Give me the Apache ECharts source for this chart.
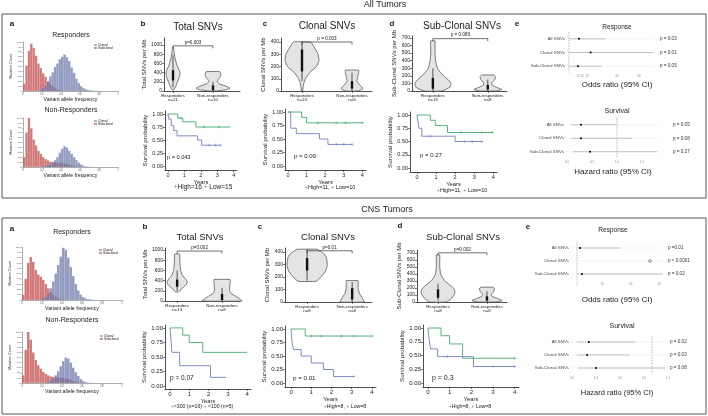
<!DOCTYPE html>
<html><head><meta charset="utf-8">
<script src="https://cdn.jsdelivr.net/npm/echarts@6/dist/echarts.min.js"></script>
<style>html,body{margin:0;padding:0;background:#fff}#main{width:708px;height:416px}</style>
</head><body><div id="main"></div>
<script>
// ================= DATA =================
const HIST_BIN = 0.025; // bin width of the VAF histograms
// All tumors – Responders
const histTopRespSubclonal = [150,520,820,965,880,720,560,470,360,290,200,140,95,50,25,12,5];
const histTopRespClonal    = [0,0,0,0,0,0,10,30,60,110,190,300,380,490,560,650,700,745,690,610,480,370,250,160,100,60,35,20,12,8,5,3];
// All tumors – Non-Responders
const histTopNonRespSubclonal = [200,700,1000,790,560,440,330,270,200,160,135,110,100,95,90,88,80,70,60,45,30,20,10,5];
const histTopNonRespClonal    = [0,0,0,0,0,0,0,0,10,20,40,60,90,140,200,290,370,425,395,330,270,200,140,90,50,25,12,6,3];
// CNS tumors – Responders
const histBotRespSubclonal = [100,400,700,810,720,570,480,440,380,300,220,150,100,60,30,15,5];
const histBotRespClonal    = [0,0,0,0,0,0,0,10,30,60,120,220,350,500,660,820,985,950,800,620,450,300,180,100,55,30,15,8,4];
// CNS tumors – Non-Responders
const histBotNonRespSubclonal = [150,650,1000,850,600,450,350,280,220,180,150,130,120,115,110,105,100,90,80,60,40,25,12,5];
const histBotNonRespClonal    = [0,0,0,0,0,0,0,0,0,10,25,50,90,150,230,330,430,500,480,400,300,210,140,80,40,20,8,3];

// Violin density profiles: [value, relative density]; box: [whiskerLow, q1, q3, whiskerHigh]
const violinCategoriesTopB = ['Responders\nn=21','Non-responders\nn=10'];
const violinCategoriesTopC = ['Responders\nn=13','Non-responders\nn=8'];
const violinCategoriesTopD = ['Responders\nn=13','Non-responders\nn=8'];
const violinCategoriesBotB = ['Responders\nn=13','Non-responders\nn=8'];
const violinCategoriesBotC = ['Responders\nn=8','Non-responders\nn=8'];
const violinCategoriesBotD = ['Responders\nn=8','Non-responders\nn=8'];

const vTopB_R  = [[20,0.1],[100,0.4],[200,0.65],[300,0.9],[380,1.0],[450,0.9],[550,0.6],[650,0.4],[750,0.25],[850,0.15],[950,0.06]];
const vTopB_NR = [[0,0.2],[30,0.8],[60,1.0],[100,0.8],[150,0.4],[200,0.25],[250,0.3],[320,0.45],[380,0.45],[420,0.4]];
const vTopC_R  = [[0,0.04],[50,0.08],[100,0.2],[150,0.45],[200,0.85],[250,1.0],[300,0.95],[350,0.75],[400,0.5]];
const vTopC_NR = [[0,0.6],[20,1.0],[50,0.7],[80,0.45],[110,0.5],[150,0.6],[170,0.6]];
const vTopD_R  = [[0,0.5],[50,0.95],[100,1.0],[150,0.85],[200,0.6],[250,0.4],[300,0.25],[400,0.15],[500,0.12],[600,0.12],[660,0.12]];
const vTopD_NR = [[0,0.5],[20,1.0],[50,0.6],[80,0.3],[110,0.3],[150,0.5],[190,0.55],[210,0.45]];
const vBotB_R  = [[180,0.2],[230,0.4],[280,0.7],[330,0.95],[380,1.0],[430,0.85],[500,0.55],[600,0.35],[700,0.3],[800,0.27],[920,0.25]];
const vBotB_NR = [[0,1.0],[50,0.85],[100,0.65],[150,0.45],[200,0.38],[260,0.38],[340,0.4],[420,0.4]];
const vBotC_R  = [[165,0.45],[200,0.7],[240,0.9],[280,1.0],[320,1.0],[360,0.95],[390,0.8],[410,0.6],[420,0.5]];
const vBotC_NR = [[0,1.0],[30,0.85],[70,0.6],[110,0.5],[150,0.5],[170,0.5]];
const vBotD_R  = [[0,0.5],[40,0.75],[100,0.95],[150,1.0],[200,0.9],[250,0.65],[300,0.4],[350,0.25],[400,0.15],[500,0.1],[600,0.1],[670,0.1]];
const vBotD_NR = [[0,0.6],[20,1.0],[50,0.7],[80,0.35],[110,0.3],[150,0.45],[190,0.5],[210,0.4]];

const boxTopB = [[80,230,450,780],[0,20,120,200]];
const boxTopC = [[80,160,340,400],[0,20,80,150]];
const boxTopD = [[0,30,170,300],[0,20,80,150]];
const boxBotB = [[200,280,420,600],[0,20,140,260]];
const boxBotC = [[170,250,350,420],[0,20,110,160]];
const boxBotD = [[20,60,180,260],[0,20,80,150]];

const pTopB = 'p=0.003', pTopC = 'p = 0.003', pTopD = 'p = 0.089';
const pBotB = 'p=0.002', pBotC = 'p=0.01', pBotD = 'p=0.002';

// Kaplan–Meier curves: times, survival, censor times
const kmTopB_hiT = [0,0.6,0.9,1.7,3.8],           kmTopB_hiS = [1,0.92,0.85,0.75,0.75], kmTopB_hiC = [0.8,2.2,3.1];
const kmTopB_loT = [0,0.05,0.2,0.35,0.55,1.8,2.05,3.2], kmTopB_loS = [1,0.9,0.78,0.68,0.58,0.5,0.4,0.4], kmTopB_loC = [2.5,2.9,3.2];
const kmTopC_hiT = [0,0.73,1.0,4.0],              kmTopC_hiS = [1,0.9,0.8,0.8], kmTopC_hiC = [1.6,2.6,3.1,4.0];
const kmTopC_loT = [0,0.15,0.45,1.7,2.15,3.45],   kmTopC_loS = [1,0.7,0.6,0.5,0.4,0.4], kmTopC_loC = [2.6,3.0,3.45];
const kmTopD_hiT = [0,0.7,0.96,1.6,4.0],          kmTopD_hiS = [1,0.9,0.8,0.67,0.67], kmTopD_hiC = [2.3,3.4,3.95];
const kmTopD_loT = [0,0.1,0.25,2.0,3.4],          kmTopD_loS = [1,0.75,0.6,0.5,0.5], kmTopD_loC = [0.7,2.5,2.9,3.4];
const kmBotB_hiT = [0,0.66,1.0,1.7,4.0],          kmBotB_hiS = [1,0.875,0.75,0.58,0.58], kmBotB_hiC = [];
const kmBotB_loT = [0,0.05,0.1,0.5,2.1,2.9],      kmBotB_loS = [1,0.8,0.58,0.35,0.15,0.15], kmBotB_loC = [];
const kmBotC_hiT = [0,0.7,4.0],                   kmBotC_hiS = [1,0.87,0.87], kmBotC_hiC = [1.0,1.5,2.5,3.1,4.0];
const kmBotC_loT = [0,0.05,0.12,0.5,1.0,1.6,2.1,3.1], kmBotC_loS = [1,0.75,0.62,0.5,0.37,0.25,0.12,0.12], kmBotC_loC = [3.1];
const kmBotD_hiT = [0,0.6,1.0,1.6,4.0],           kmBotD_hiS = [1,0.86,0.71,0.45,0.45], kmBotD_hiC = [4.0];
const kmBotD_loT = [0,0.05,0.12,0.45,2.1,4.0],    kmBotD_loS = [1,0.8,0.62,0.48,0.3,0.3], kmBotD_loC = [0.9,3.0,4.0];

const kmPTopB = 'p = 0.043', kmPTopC = 'p = 0.09', kmPTopD = 'p = 0.27';
const kmPBotB = 'p = 0.07',  kmPBotC = 'p = 0.01', kmPBotD = 'p = 0.3';
const kmLegTopB = ['High=16','Low=15'], kmLegTopC = ['High=11,','Low=10'], kmLegTopD = ['High=11,','Low=10'];
const kmLegBotB = ['>300 (n=16)','<100 (n=5)'], kmLegBotC = ['High=8,','Low=8'], kmLegBotD = ['High=8,','Low=8'];

// Forest plots
const forestRows = ['All SNVs','Clonal SNVs','Sub-Clonal SNVs'];
const frTopEst = [12.6,26,11.5],  frTopLo = [1,1,1],  frTopHi = [43,98,39];
const frTopP = ['p = 0.03','p = 0.01','p = 0.05'];
const fsTopEst = [0.28,0.28,0.46], fsTopLo = [0.08,0.08,0.12], fsTopHi = [1.0,1.3,1.8];
const fsTopP = ['p = 0.05','p = 0.08','p = 0.27'];
const frBotEst = [2.06,26.8,2.77], frBotLo = [1,null,1], frBotHi = [16.2,null,31.4];
const frBotP = ['p =0.01','p < 0.0001','p = 0.02'];
const fsBotEst = [0.21,0.19,0.3], fsBotLo = [0.06,0.06,0.075], fsBotHi = [0.79,0.72,1.16];
const fsBotP = ['p = 0.02','p = 0.03','p = 0.08'];

// ================= BUILD =================
const FONT = '"Liberation Sans", Arial, Helvetica, sans-serif';
const GREEN = '#45ab70', BLUE = '#7480bd';
const RED_F = 'rgba(196,82,82,0.78)', BLUE_F = 'rgba(98,112,165,0.7)';
const grids = [], xAxes = [], yAxes = [], series = [], graphics = [];

function axLine(c){ return {show:true, onZero:false, lineStyle:{color:c||'#222', width:0.8}}; }
function valAxis(gi, min, max, ticks, o) {
  o = o || {};
  return {
    type:'value', gridIndex:gi, min:min, max:max,
    axisLine: o.noLine ? {show:false, onZero:false} : axLine(o.lineColor),
    axisTick: o.noTick ? {show:false} : {show:true, length:o.tickLen||2, customValues:ticks, lineStyle:{color:o.lineColor||'#222', width:0.6}},
    axisLabel:{show:true, customValues:ticks, fontSize:o.fs||5, color:o.lc||'#222', margin:o.margin||2, fontFamily:FONT,
      lineHeight:o.lh||undefined, formatter:o.fmt || (v=>String(v))},
    splitLine:{show:false},
    name:o.name||'', nameLocation:'middle', nameGap:o.nameGap||10,
    nameTextStyle:{fontSize:o.nfs||6, fontFamily:FONT, color:'#222'}
  };
}
function addPanel(g, xa, ya){ const i = grids.length; grids.push(Object.assign({containLabel:false}, g)); xa.gridIndex=i; ya.gridIndex=i; xAxes.push(xa); yAxes.push(ya); return i; }

function range(a,b,s){ const r=[]; for(let v=a; v<=b+1e-9; v+=s) r.push(Math.round(v*1000)/1000); return r; }

// ---- histograms ----
function histSeries(ax, counts, color){
  return {type:'custom', xAxisIndex:ax, yAxisIndex:ax, silent:true, clip:true,
    data: counts.map((c,i)=>[i*HIST_BIN, c]),
    renderItem:(p, api)=>{
      const x0 = api.value(0), c = api.value(1);
      const a = api.coord([x0,0]), b = api.coord([x0+HIST_BIN, c]);
      return {type:'rect', shape:{x:a[0], y:b[1], width:b[0]-a[0], height:a[1]-b[1]},
        style:{fill:color, stroke:'rgba(255,255,255,0.3)', lineWidth:0.3}};
    }};
}
function addHist(g, sub, clo){
  const ax = addPanel(g,
    valAxis(0,0,1,range(0,1,0.2),{fs:2.6,lc:'#555',lineColor:'#999',tickLen:1.5,margin:1.5,name:'Variant allele frequency',nameGap:6.5,nfs:5.2}),
    valAxis(0,0,1000,range(0,1000,100),{fs:2.2,lc:'#555',lineColor:'#999',tickLen:1.5,margin:1.5,name:'Mutation Count',nameGap:7,nfs:3.6}));
  series.push(histSeries(ax, sub, RED_F));
  series.push(histSeries(ax, clo, BLUE_F));
}
addHist({left:23, top:42, width:95, height:49}, histTopRespSubclonal, histTopRespClonal);
addHist({left:23, top:118, width:95, height:49}, histTopNonRespSubclonal, histTopNonRespClonal);
addHist({left:22, top:247, width:100, height:53}, histBotRespSubclonal, histBotRespClonal);
addHist({left:22, top:332, width:100, height:51}, histBotNonRespSubclonal, histBotNonRespClonal);

// ---- violins ----
function violinSeries(ax, pos, prof, halfMax, box){
  return {type:'custom', xAxisIndex:ax, yAxisIndex:ax, silent:true, clip:false,
    data:[[pos].concat(box)],
    renderItem:(p, api)=>{
      const xv = api.value(0);
      const cx = api.coord([xv,0])[0];
      const R=[], L=[];
      prof.forEach(q=>{ const y = api.coord([xv,q[0]])[1]; R.push([cx+q[1]*halfMax,y]); L.unshift([cx-q[1]*halfMax,y]); });
      const wl = api.coord([xv,api.value(1)])[1], q1 = api.coord([xv,api.value(2)])[1],
            q3 = api.coord([xv,api.value(3)])[1], wh = api.coord([xv,api.value(4)])[1];
      return {type:'group', children:[
        {type:'polygon', shape:{points:R.concat(L), smooth:0.12}, style:{fill:'#e4e4e4', stroke:'#444', lineWidth:0.7}},
        {type:'line', shape:{x1:cx,y1:wl,x2:cx,y2:wh}, style:{stroke:'#111', lineWidth:0.7}},
        {type:'rect', shape:{x:cx-1.2, y:q3, width:2.4, height:q1-q3}, style:{fill:'#111'}}
      ]};
    }};
}
function bracketSeries(ax, yv, txt){
  return {type:'custom', xAxisIndex:ax, yAxisIndex:ax, silent:true, clip:false, z:5,
    data:[[1,2,yv]],
    renderItem:(p, api)=>{
      const a = api.coord([api.value(0), api.value(2)]), b = api.coord([api.value(1), api.value(2)]);
      return {type:'group', children:[
        {type:'polyline', shape:{points:[[a[0],a[1]+2.5],[a[0],a[1]],[b[0],b[1]],[b[0],b[1]+2.5]]}, style:{stroke:'#333', lineWidth:0.7, fill:'none'}},
        {type:'text', style:{x:(a[0]+b[0])/2, y:a[1]-1, text:txt, fontSize:4.6, fontFamily:FONT, fill:'#222', align:'center', verticalAlign:'bottom', textAlign:'center', textVerticalAlign:'bottom'}}
      ]};
    }};
}
function addViolin(g, xmin, xmax, ymax, yticks, yname, nameGap, cats, profR, profNR, hR, hNR, boxes, brY, brTxt){
  const ax = addPanel(g,
    valAxis(0,xmin,xmax,[1,2],{fs:4.4,lh:4.8,margin:2,fmt:v=>cats[Math.round(v)-1]}),
    valAxis(0,0,ymax,yticks,{fs:5,name:yname,nameGap:nameGap,nfs:6}));
  series.push(violinSeries(ax,1,profR,hR,boxes[0]));
  series.push(violinSeries(ax,2,profNR,hNR,boxes[1]));
  series.push(bracketSeries(ax,brY,brTxt));
}
addViolin({left:164,top:38,width:76,height:53}, 0.775,2.675, 1150, range(0,1000,200), 'Total SNVs per Mb', 17, violinCategoriesTopB, vTopB_R, vTopB_NR, 7, 17, boxTopB, 980, pTopB);
addViolin({left:281,top:38,width:91,height:53}, 0.58,2.4, 433, range(0,400,100), 'Clonal SNVs per Mb', 10, violinCategoriesTopC, vTopC_R, vTopC_NR, 17, 11, boxTopC, 400, pTopC);
addViolin({left:412,top:36,width:95,height:55}, 0.62,2.35, 725, range(0,700,100), 'Sub-Clonal SNVs per Mb', 12, violinCategoriesTopD, vTopD_R, vTopD_NR, 18, 14, boxTopD, 690, pTopD);
addViolin({left:165,top:248,width:75,height:53}, 0.73,2.4, 1040, range(0,1000,200), 'Total SNVs per Mb', 14, violinCategoriesBotB, vBotB_R, vBotB_NR, 10, 20, boxBotB, 980, pBotB);
addViolin({left:285,top:248,width:87,height:54}, 0.51,2.44, 430, range(0,400,100), 'Clonal SNVs per Mb', 12, violinCategoriesBotC, vBotC_R, vBotC_NR, 20, 12, boxBotC, 408, pBotC);
addViolin({left:417,top:250,width:90,height:52}, 0.57,2.41, 740, range(0,700,100), 'Sub-Clonal SNVs per Mb', 11, violinCategoriesBotD, vBotD_R, vBotD_NR, 17, 15, boxBotD, 700, pBotD);

// ---- Kaplan-Meier ----
function stepAt(T,S,t){ let s=S[0]; for(let i=0;i<T.length;i++){ if(T[i]<=t) s=S[i]; } return s; }
function kmSeries(ax, T, S, C, color){
  series.push({type:'line', xAxisIndex:ax, yAxisIndex:ax, step:'end', silent:true, symbol:'none',
    data:T.map((t,i)=>[t,S[i]]), lineStyle:{color:color, width:0.9}});
  if (C.length) series.push({type:'scatter', xAxisIndex:ax, yAxisIndex:ax, silent:true,
    symbol:'path://M5 0V10M0 5H10', symbolSize:3.2,
    data:C.map(c=>[c, stepAt(T,S,c)]), itemStyle:{color:'none', borderColor:color, borderWidth:0.6}});
}
function addKM(g, xmin, ymin, ymax, nameGap, hi, lo, fs){
  const ax = addPanel(g,
    valAxis(0,xmin,4.2,[0,1,2,3,4],{fs:fs||5.5,name:'Years',nameGap:9,nfs:5.8}),
    valAxis(0,ymin,ymax,[0,0.25,0.5,0.75,1],{fs:fs||5.5,fmt:v=>v.toFixed(2),name:'Survival probability',nameGap:nameGap,nfs:6.2}));
  kmSeries(ax, hi[0], hi[1], hi[2], GREEN);
  kmSeries(ax, lo[0], lo[1], lo[2], BLUE);
}
addKM({left:165,top:111,width:72,height:59}, -0.18,-0.077,1.058, 11, [kmTopB_hiT,kmTopB_hiS,kmTopB_hiC],[kmTopB_loT,kmTopB_loS,kmTopB_loC]);
addKM({left:285,top:109,width:81,height:61}, -0.16,-0.074,1.056, 14, [kmTopC_hiT,kmTopC_hiS,kmTopC_hiC],[kmTopC_loT,kmTopC_loS,kmTopC_loC]);
addKM({left:410,top:112,width:87,height:60}, -0.37,-0.075,1.057, 13, [kmTopD_hiT,kmTopD_hiS,kmTopD_hiC],[kmTopD_loT,kmTopD_loS,kmTopD_loC]);
addKM({left:165,top:325,width:86,height:64}, -0.26,-0.05,1.05, 14, [kmBotB_hiT,kmBotB_hiS,kmBotB_hiC],[kmBotB_loT,kmBotB_loS,kmBotB_loC], 6);
addKM({left:285,top:326,width:91,height:61}, -0.3,-0.074,1.056, 12, [kmBotC_hiT,kmBotC_hiS,kmBotC_hiC],[kmBotC_loT,kmBotC_loS,kmBotC_loC], 6);
addKM({left:423,top:325,width:96,height:62}, -0.23,-0.073,1.055, 17, [kmBotD_hiT,kmBotD_hiS,kmBotD_hiC],[kmBotD_loT,kmBotD_loS,kmBotD_loC], 6);

// ---- forest plots ----
const pAxes = [];
function forestSeries(ax, est, lo, hi, ref){
  return {type:'custom', xAxisIndex:ax, yAxisIndex:ax, silent:true, clip:true,
    encode:{x:0, y:1},
    data: est.map((e,i)=>[e, i, lo[i]==null?'-':lo[i], hi[i]==null?'-':hi[i]]),
    renderItem:(p, api)=>{
      const cs = p.coordSys, r = api.value(1);
      const c = api.coord([api.value(0), r]);
      const kids = [{type:'line', shape:{x1:cs.x, y1:c[1], x2:cs.x+cs.width, y2:c[1]}, style:{stroke:'#eeeeee', lineWidth:0.6}}];
      if (p.dataIndex === 0) {
        const rx = api.coord([ref, 0])[0];
        kids.push({type:'line', shape:{x1:rx, y1:cs.y, x2:rx, y2:cs.y+cs.height}, style:{stroke:'#888', lineWidth:0.6, lineDash:[1.5,1.2]}});
      }
      const l = api.value(2), h = api.value(3);
      let open = false;
      if (isNaN(l) || isNaN(h)) open = true;
      else {
        const a = api.coord([l, r]), b = api.coord([h, r]);
        kids.push({type:'line', shape:{x1:a[0], y1:a[1], x2:b[0], y2:b[1]}, style:{stroke:'#9a9a9a', lineWidth:0.6}});
      }
      kids.push({type:'circle', shape:{cx:c[0], cy:c[1], r:open?1.4:1}, style: open?{fill:'none',stroke:'#333',lineWidth:0.5}:{fill:'#000'}});
      return {type:'group', children:kids};
    }};
}
function addForest(g, xmin, xmax, ticks, est, lo, hi, ref, pv, pMargin, fmt){
  const ya = {type:'category', data:forestRows, inverse:true, axisLine:{show:false}, axisTick:{show:false},
    axisLabel:{fontSize:4.4, color:'#444', margin:3, fontFamily:FONT}, splitLine:{show:false}};
  const ax = addPanel(g, valAxis(0,xmin,xmax,ticks,{fs:2.8,lc:'#888',noLine:true,noTick:true,margin:2,fmt:fmt}), ya);
  pAxes.push({type:'category', gridIndex:ax, position:'right', data:pv, inverse:true, axisLine:{show:false}, axisTick:{show:false},
    axisLabel:{fontSize:4.6, color:'#333', margin:pMargin, align:'left', fontFamily:FONT}, splitLine:{show:false}});
  series.push(forestSeries(ax, est, lo, hi, ref));
}
addForest({left:568, top:32, width:87, height:41}, 0, 100, [11.5,16,22,56,82], frTopEst, frTopLo, frTopHi, 1, frTopP, 5, v=>String(Math.round(v)));
addForest({left:567, top:118, width:93, height:40.5}, 0, 1.86, [0,0.5,1,1.5], fsTopEst, fsTopLo, fsTopHi, 1, fsTopP, 13, v=>v.toFixed(1));
addForest({left:572, top:241.5, width:91, height:39}, -0.77, 31.4, [1,10,20,30], frBotEst, frBotLo, frBotHi, 1, frBotP, 5, v=>String(v));
addForest({left:572, top:335.5, width:96, height:39}, 0, 1.2, [0,0.3,0.6,0.9,1.2], fsBotEst, fsBotLo, fsBotHi, 1, fsBotP, 2, v=>v.toFixed(1));
pAxes.forEach(a=>yAxes.push(a));

// ---- text / frame graphics ----
function T(x, y, text, size, o){
  o = o || {};
  const al = o.align || 'center';
  return {type:'text', x:x, y:y, silent:true, z:10,
    style:Object.assign({text:text, fontSize:size, fontFamily:FONT, fontWeight:o.bold?'bold':'normal', fill:o.fill||'#222',
      align:al, textAlign:al, verticalAlign:'middle', textVerticalAlign:'middle'}, o.rich?{rich:o.rich}:{})};
}
graphics.push({type:'rect', shape:{x:2, y:14, width:704, height:184}, style:{fill:'none', stroke:'#555', lineWidth:1}, silent:true});
graphics.push({type:'rect', shape:{x:2, y:218, width:704, height:196}, style:{fill:'none', stroke:'#555', lineWidth:1}, silent:true});
graphics.push(T(385,5,'All Tumors',9));
graphics.push(T(387,210,'CNS Tumors',9));
// panel letters
[['a',12,24],['b',143,24],['c',265,24],['d',392,24],['e',517,24],
 ['a',12,229],['b',145,227],['c',260,227],['d',400,226],['e',528,227]].forEach(l=>graphics.push(T(l[1],l[2],l[0],8,{bold:true})));
// panel titles
graphics.push(T(198,27,'Total SNVs',10));
graphics.push(T(327,26,'Clonal SNVs',10));
graphics.push(T(462,26,'Sub-Clonal SNVs',10));
graphics.push(T(200,237,'Total SNVs',9.5));
graphics.push(T(328,237,'Clonal SNVs',9.5));
graphics.push(T(463,237,'Sub-Clonal SNVs',9.5));
// histogram titles
graphics.push(T(71,35,'Responders',7));
graphics.push(T(71,110,'Non-Responders',7));
graphics.push(T(72,232,'Responders',7));
graphics.push(T(72,320,'Non-Responders',7));
// histogram legends
function histLegend(x, y){
  graphics.push({type:'line', shape:{x1:x, y1:y, x2:x+3, y2:y}, style:{stroke:'#5a6aa0', lineWidth:1}, silent:true});
  graphics.push({type:'line', shape:{x1:x, y1:y+3, x2:x+3, y2:y+3}, style:{stroke:'#b02020', lineWidth:1}, silent:true});
  graphics.push(T(x+4, y, 'Clonal', 3.4, {align:'left'}));
  graphics.push(T(x+4, y+3, 'Subclonal', 3.4, {align:'left'}));
}
histLegend(94,45); histLegend(94,121); histLegend(99,250); histLegend(100,336);
// KM p-values
graphics.push(T(167,157,kmPTopB,5.6,{align:'left'}));
graphics.push(T(294,156,kmPTopC,6,{align:'left'}));
graphics.push(T(420,155,kmPTopD,6,{align:'left'}));
graphics.push(T(170,378,kmPBotB,6.5,{align:'left'}));
graphics.push(T(293,378,kmPBotC,6.2,{align:'left'}));
graphics.push(T(432,378,kmPBotD,7,{align:'left'}));
// KM legends
const legRich = s => ({g:{fill:GREEN, fontSize:s, fontFamily:FONT}, b:{fill:BLUE, fontSize:s, fontFamily:FONT}, t:{fill:'#222', fontSize:s, fontFamily:FONT}});
function kmLeg(x, y, labs, s){ graphics.push(T(x, y, '{g|+}{t|' + labs[0] + ' }{b|+}{t| ' + labs[1] + '}', s, {rich:legRich(s)})); }
kmLeg(203,187,kmLegTopB,6.5);
kmLeg(330,187,kmLegTopC,5.5);
kmLeg(462,190,kmLegTopD,5.5);
kmLeg(202,407,kmLegBotB,5.2);
kmLeg(345,407,kmLegBotC,5.2);
kmLeg(470,407,kmLegBotD,5.2);
// forest titles
graphics.push(T(617,27,'Response',6.5));
graphics.push(T(617,85,'Odds ratio (95% CI)',8));
graphics.push(T(617,111,'Survival',7));
graphics.push(T(613,172,'Hazard ratio (95% CI)',8));
graphics.push(T(613,230,'Response',6.5));
graphics.push(T(617,300,'Odds ratio (95% CI)',8));
graphics.push(T(622,326,'Survival',7));
graphics.push(T(617,393,'Hazard ratio (95% CI)',7.5));

const chart = echarts.init(document.getElementById('main'), null, {renderer:'canvas'});
chart.setOption({
  animation:false, backgroundColor:'#fff',
  textStyle:{fontFamily:FONT},
  grid:grids, xAxis:xAxes, yAxis:yAxes, series:series, graphic:graphics
});
</script></body></html>
